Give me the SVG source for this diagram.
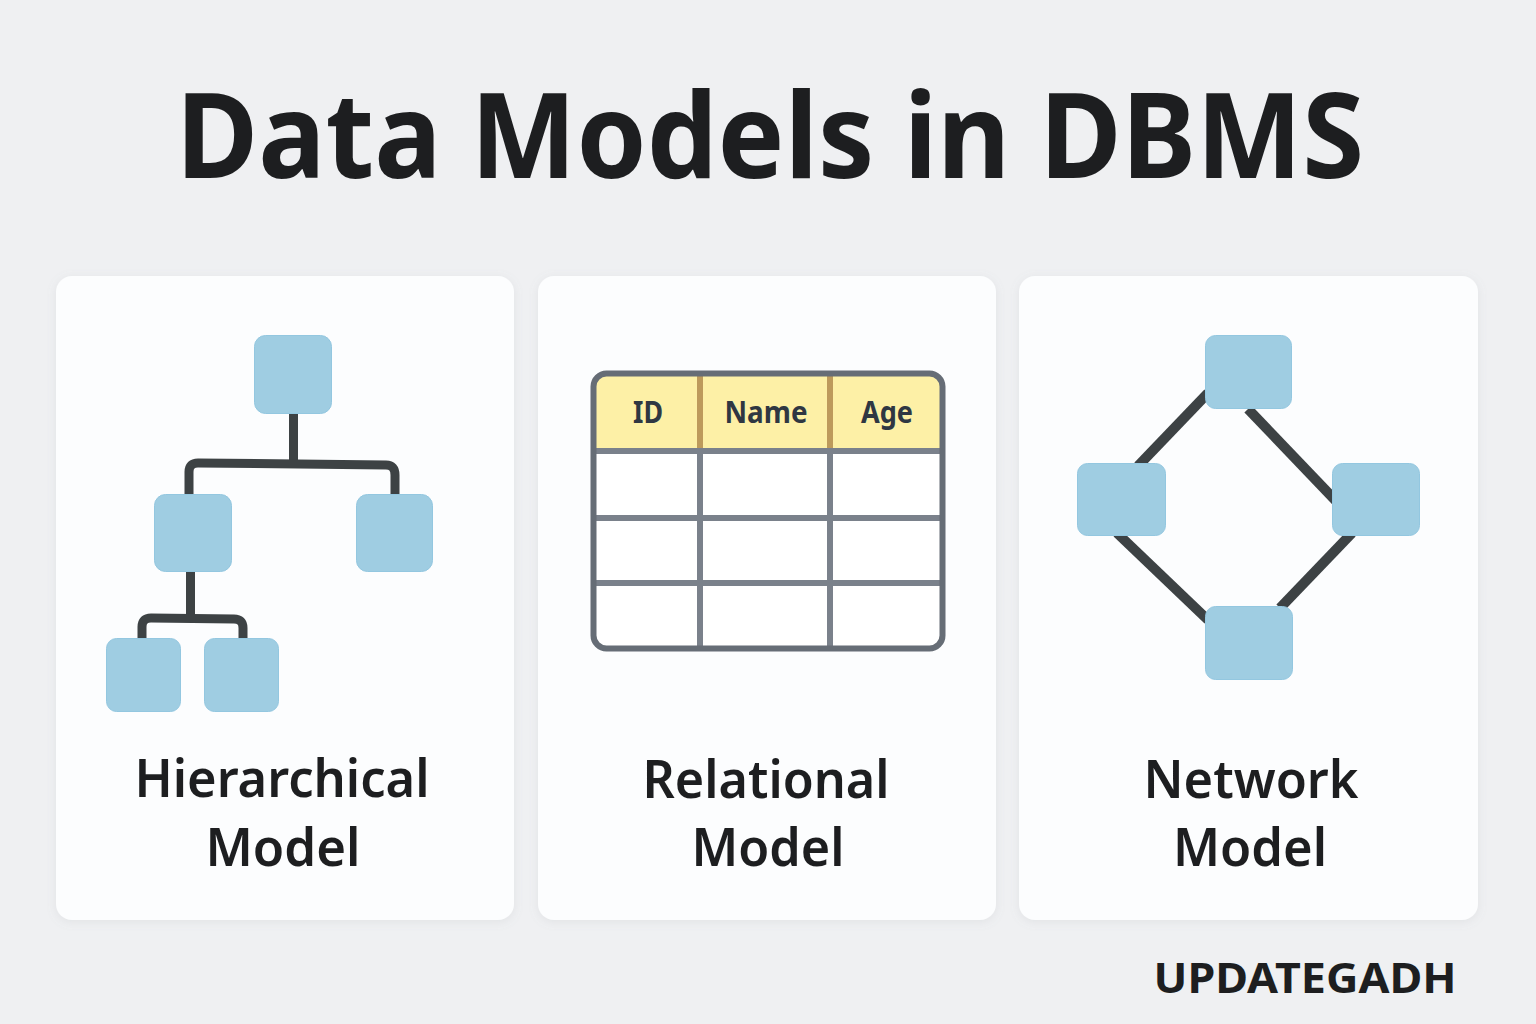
<svg xmlns="http://www.w3.org/2000/svg" width="1536" height="1024" viewBox="0 0 1536 1024">
<defs>
<filter id="sh" x="-5%" y="-5%" width="110%" height="110%"><feDropShadow dx="0" dy="2" stdDeviation="5" flood-color="#8a9099" flood-opacity="0.14"/></filter>
</defs>
<style>
text{font-family:"Noto Sans","Liberation Sans",sans-serif;fill:#1d1e20;text-anchor:middle}
.title{font-size:118px;font-weight:700}
.lab{font-size:53px;font-weight:600}
.brand{font-size:42px;font-weight:700}
.th{font-size:31px;font-weight:700;fill:#2f3742}
.card{fill:#fcfdfe;filter:url(#sh)}
.n{fill:#9fcde2;stroke:#93c7e0;stroke-width:1}
.c{fill:none;stroke:#3d4244;stroke-width:9;stroke-linejoin:round}
.d{stroke-width:10}
.g{fill:none;stroke:#7a818b;stroke-width:6}
</style>
<rect width="1536" height="1024" fill="#eff0f2"/>
<text class="title" x="770" y="178" textLength="1188" lengthAdjust="spacingAndGlyphs">Data Models in DBMS</text>
<g id="card-hierarchical"><rect class="card" x="56" y="276" width="458" height="644" rx="16"/></g>
<g id="card-relational"><rect class="card" x="538" y="276" width="458" height="644" rx="16"/></g>
<g id="card-network"><rect class="card" x="1019" y="276" width="459" height="644" rx="16"/></g>
<g id="connectors">
<path class="c" d="M293.500 410V463"/>
<path class="c" d="M189 498V472Q189 463 198 463L386 465Q395 465 395 475V498"/>
<path class="c" d="M190.500 568V618"/>
<path class="c" d="M142 640V627Q142 618 151 618L234 619Q243 619 243 628V640"/>
<path class="c d" d="M1208 393L1138 466"/>
<path class="c d" d="M1248 409L1336 501"/>
<path class="c d" d="M1117 533L1208 620"/>
<path class="c d" d="M1352 533L1280 608"/>
</g>
<g id="h-root"><rect class="n" x="254.500" y="335.500" width="77" height="78" rx="11"/></g>
<g id="h-left"><rect class="n" x="154.500" y="494.500" width="77" height="77" rx="11"/></g>
<g id="h-right"><rect class="n" x="356.500" y="494.500" width="76" height="77" rx="11"/></g>
<g id="h-leaf1"><rect class="n" x="106.500" y="638.500" width="74" height="73" rx="10"/></g>
<g id="h-leaf2"><rect class="n" x="204.500" y="638.500" width="74" height="73" rx="10"/></g>
<g id="table">
<path d="M594 389Q594 374 609 374H927Q942 374 942 389V451H594Z" fill="#fdf0a6"/>
<path d="M594 451H942V633Q942 648 927 648H609Q594 648 594 633Z" fill="#fff"/>
<path d="M700 374V451M830 374V451" fill="none" stroke="#bd9a5b" stroke-width="6"/>
<path class="g" d="M594 451H942M594 518H942M594 583H942M700 451V648M830 451V648"/>
<rect class="g" x="593.500" y="373.500" width="349" height="275" rx="13" style="stroke:#666d76"/>
<text class="th" x="648" y="423" textLength="30" lengthAdjust="spacingAndGlyphs">ID</text>
<text class="th" x="766" y="423" textLength="83" lengthAdjust="spacingAndGlyphs">Name</text>
<text class="th" x="887" y="423" textLength="52" lengthAdjust="spacingAndGlyphs">Age</text>
</g>
<g id="n-top"><rect class="n" x="1205.500" y="335.500" width="86" height="73" rx="10"/></g>
<g id="n-left"><rect class="n" x="1077.500" y="463.500" width="88" height="72" rx="10"/></g>
<g id="n-right"><rect class="n" x="1332.500" y="463.500" width="87" height="72" rx="10"/></g>
<g id="n-bottom"><rect class="n" x="1205.500" y="606.500" width="87" height="73" rx="10"/></g>
<text class="lab" x="282" y="797" textLength="295" lengthAdjust="spacingAndGlyphs">Hierarchical</text>
<text class="lab" x="283" y="866" textLength="155" lengthAdjust="spacingAndGlyphs">Model</text>
<text class="lab" x="766" y="798" textLength="247" lengthAdjust="spacingAndGlyphs">Relational</text>
<text class="lab" x="768" y="866" textLength="153" lengthAdjust="spacingAndGlyphs">Model</text>
<text class="lab" x="1251" y="798" textLength="215" lengthAdjust="spacingAndGlyphs">Network</text>
<text class="lab" x="1250" y="866" textLength="154" lengthAdjust="spacingAndGlyphs">Model</text>
<text class="brand" x="1305" y="993" textLength="303" lengthAdjust="spacingAndGlyphs">UPDATEGADH</text>
</svg>
